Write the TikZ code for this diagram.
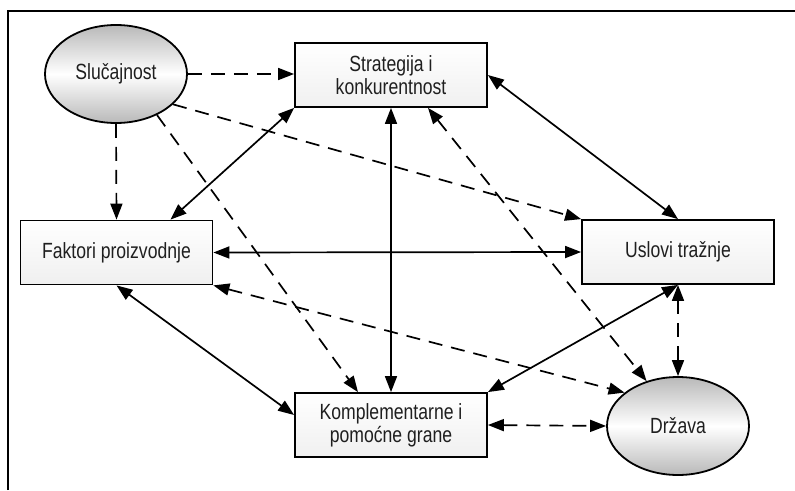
\documentclass[tikz,border=0pt]{standalone}
\usepackage{fontspec}
\setmainfont{Liberation Sans}[FakeStretch=0.8]
\usetikzlibrary{arrows.meta,shapes.geometric}

\begin{document}
\begin{tikzpicture}[x=1pt,y=-1pt,
		font=\fontsize{22}{23}\selectfont,
		factor/.style={draw,line width=1.8pt,rectangle,minimum width=192pt,minimum height=64pt,
			align=center,text=black!88,top color=white,bottom color=gray!12},
		outside/.style={draw,line width=1.8pt,ellipse,minimum width=142pt,minimum height=98pt,
			text=black!88,top color=gray!55,bottom color=gray!55,middle color=white},
		tip/.style={-{Triangle[length=16pt,width=12pt]}},
		both/.style={{Triangle[length=16pt,width=12pt]}-{Triangle[length=16pt,width=12pt]}},
		solidlink/.style={line width=1.7pt,both},
		dashlink/.style={line width=1.7pt,dash pattern=on 14pt off 9pt},
	]
	\useasboundingbox (0,0) rectangle (795,490);
	
	% frame
	\draw[line width=2pt] (7.5,490) -- (7.5,10.5) -- (795,10.5);
	
	% nodes
	\node[outside] (sl) at (116,74) {Slučajnost};
	\node[factor]  (st) at (391,75) {Strategija i\\konkurentnost};
	\node[factor]  (fp) at (116.5,252.5) {Faktori proizvodnje};
	\node[factor]  (ut) at (678,252) {Uslovi tražnje};
	\node[factor]  (kg) at (391,425) {Komplementarne i\\pomoćne grane};
	\node[outside] (dr) at (678,426) {Država};
	
	% chance
	\draw[dashlink,tip] (sl.east) -- (sl.east -| st.west);
	\draw[dashlink,tip] (sl.south) -- (fp.north);
	\draw[dashlink,tip] (sl.-28) -- (ut.north west);
	\draw[dashlink,tip] (sl.-45) -- ([xshift=-33pt]kg.north);
	
	% the diamond
	\draw[solidlink] (st.south west) -- ([xshift=54pt]fp.north);
	\draw[solidlink] (st.east) -- (ut.north);
	\draw[solidlink] (st.south) -- (kg.north);
	\draw[solidlink] (fp.east) -- (ut.west);
	\draw[solidlink] (fp.south) -- ([yshift=10pt]kg.west);
	\draw[solidlink] (ut.south) -- (kg.north east);
	
	% government
	\draw[dashlink,both] (fp.south east) -- (dr.148);
	\draw[dashlink,both] ([xshift=37pt]st.south) -- (dr.125);
	\draw[dashlink,both] (ut.south) -- (dr.north);
	\draw[dashlink,both] (kg.east) -- (dr.west);
\end{tikzpicture}
\end{document}
